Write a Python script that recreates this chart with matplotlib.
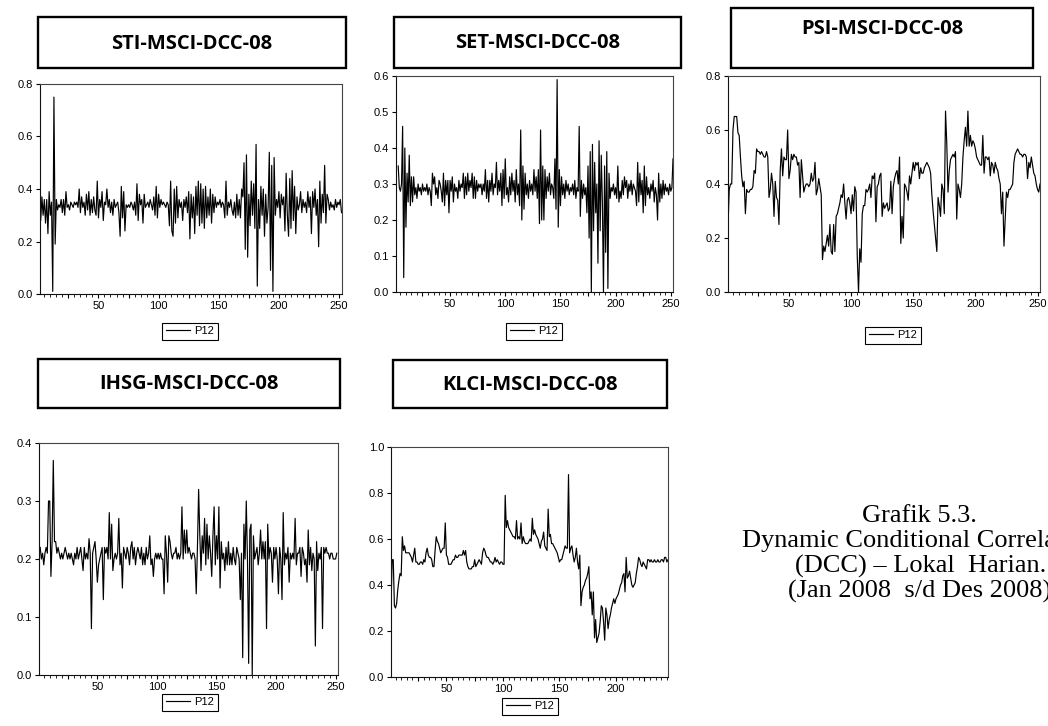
import numpy as np
import matplotlib.pyplot as plt
from matplotlib.patches import Rectangle
from matplotlib.ticker import MultipleLocator, FuncFormatter

W, H = 1048, 726

# dynamic conditional correlations, observation index starts given per series
sti_start = 1
sti = [0.40, 0.28, 0.37, 0.30, 0.36, 0.27, 0.36, 0.23, 0.39, 0.30,
       0.35, 0.01, 0.75, 0.19, 0.36, 0.32, 0.34, 0.33, 0.36, 0.31,
       0.36, 0.30, 0.39, 0.33, 0.34, 0.32, 0.35, 0.34, 0.33, 0.35,
       0.34, 0.35, 0.33, 0.40, 0.31, 0.37, 0.33, 0.35, 0.30, 0.38,
       0.32, 0.39, 0.30, 0.36, 0.31, 0.37, 0.32, 0.30, 0.43, 0.29,
       0.36, 0.33, 0.39, 0.28, 0.35, 0.34, 0.40, 0.33, 0.36, 0.31,
       0.35, 0.30, 0.36, 0.33, 0.34, 0.35, 0.31, 0.22, 0.41, 0.29,
       0.39, 0.24, 0.34, 0.33, 0.34, 0.33, 0.35, 0.34, 0.32, 0.35,
       0.30, 0.42, 0.28, 0.38, 0.34, 0.36, 0.27, 0.38, 0.33, 0.34,
       0.35, 0.33, 0.36, 0.34, 0.32, 0.37, 0.30, 0.41, 0.29, 0.38,
       0.33, 0.36, 0.34, 0.35, 0.34, 0.33, 0.35, 0.34, 0.26, 0.43,
       0.24, 0.22, 0.40, 0.27, 0.41, 0.29, 0.36, 0.33, 0.35, 0.28,
       0.36, 0.33, 0.37, 0.31, 0.39, 0.21, 0.38, 0.29, 0.37, 0.23,
       0.41, 0.30, 0.43, 0.26, 0.42, 0.27, 0.40, 0.25, 0.41, 0.29,
       0.37, 0.30, 0.40, 0.27, 0.38, 0.31, 0.37, 0.33, 0.35, 0.34,
       0.36, 0.33, 0.35, 0.34, 0.29, 0.43, 0.30, 0.35, 0.33, 0.36,
       0.32, 0.30, 0.35, 0.29, 0.38, 0.30, 0.36, 0.29, 0.40, 0.37,
       0.50, 0.17, 0.53, 0.14, 0.38, 0.26, 0.43, 0.30, 0.42, 0.25,
       0.57, 0.03, 0.36, 0.25, 0.41, 0.30, 0.40, 0.22, 0.38, 0.27,
       0.33, 0.54, 0.09, 0.49, 0.01, 0.52, 0.30, 0.36, 0.33, 0.39,
       0.29, 0.38, 0.34, 0.37, 0.24, 0.46, 0.30, 0.22, 0.44, 0.25,
       0.47, 0.28, 0.41, 0.23, 0.37, 0.32, 0.34, 0.39, 0.31, 0.36,
       0.33, 0.35, 0.31, 0.39, 0.33, 0.37, 0.23, 0.39, 0.33, 0.40,
       0.30, 0.36, 0.18, 0.43, 0.27, 0.38, 0.31, 0.49, 0.27, 0.38,
       0.36, 0.32, 0.35, 0.33, 0.34, 0.32, 0.36, 0.33, 0.35, 0.34,
       0.36, 0.31]

set_start = 3
set_vals = [0.35, 0.29, 0.28, 0.30, 0.46, 0.04, 0.40, 0.18, 0.33, 0.25,
            0.38, 0.24, 0.32, 0.25, 0.32, 0.27, 0.29, 0.26, 0.30, 0.28,
            0.29, 0.27, 0.30, 0.28, 0.29, 0.28, 0.30, 0.27, 0.29, 0.28,
            0.24, 0.33, 0.30, 0.32, 0.27, 0.29, 0.26, 0.31, 0.30, 0.28,
            0.25, 0.33, 0.24, 0.31, 0.27, 0.31, 0.22, 0.31, 0.28, 0.32,
            0.25, 0.30, 0.28, 0.29, 0.26, 0.31, 0.28, 0.30, 0.29, 0.33,
            0.26, 0.32, 0.27, 0.33, 0.28, 0.31, 0.29, 0.33, 0.26, 0.32,
            0.26, 0.31, 0.28, 0.30, 0.29, 0.30, 0.27, 0.30, 0.28, 0.34,
            0.26, 0.31, 0.25, 0.31, 0.28, 0.33, 0.27, 0.30, 0.29, 0.36,
            0.27, 0.31, 0.28, 0.33, 0.24, 0.34, 0.26, 0.37, 0.27, 0.29,
            0.25, 0.32, 0.27, 0.33, 0.28, 0.31, 0.25, 0.34, 0.27, 0.30,
            0.24, 0.45, 0.20, 0.35, 0.23, 0.33, 0.27, 0.30, 0.26, 0.31,
            0.28, 0.30, 0.27, 0.34, 0.28, 0.32, 0.26, 0.34, 0.19, 0.45,
            0.20, 0.35, 0.20, 0.34, 0.26, 0.32, 0.28, 0.33, 0.27, 0.30,
            0.29, 0.26, 0.37, 0.23, 0.59, 0.18, 0.34, 0.24, 0.32, 0.27,
            0.30, 0.26, 0.31, 0.28, 0.30, 0.27, 0.29, 0.28, 0.30, 0.27,
            0.31, 0.26, 0.29, 0.28, 0.46, 0.21, 0.31, 0.26, 0.30, 0.27,
            0.29, 0.22, 0.35, 0.15, 0.39, 0.00, 0.41, 0.17, 0.36, 0.22,
            0.30, 0.08, 0.42, 0.17, 0.38, 0.25, 0.00, 0.35, 0.11, 0.39,
            0.01, 0.33, 0.26, 0.29, 0.28, 0.30, 0.27, 0.29, 0.26, 0.35,
            0.25, 0.28, 0.26, 0.31, 0.27, 0.32, 0.29, 0.31, 0.26, 0.30,
            0.28, 0.31, 0.27, 0.30, 0.29, 0.28, 0.24, 0.36, 0.25, 0.33,
            0.27, 0.31, 0.22, 0.35, 0.24, 0.32, 0.27, 0.29, 0.26, 0.30,
            0.28, 0.31, 0.25, 0.29, 0.27, 0.20, 0.33, 0.25, 0.30, 0.26,
            0.31, 0.27, 0.30, 0.28, 0.29, 0.27, 0.30, 0.28, 0.29, 0.37]

psi_start = 1
psi = [0.24, 0.38, 0.40, 0.40, 0.60, 0.65, 0.65, 0.65, 0.59, 0.58,
       0.50, 0.43, 0.39, 0.41, 0.29, 0.38, 0.37, 0.37, 0.38, 0.38,
       0.39, 0.45, 0.44, 0.53, 0.52, 0.52, 0.51, 0.52, 0.51, 0.50,
       0.50, 0.52, 0.50, 0.35, 0.38, 0.44, 0.40, 0.28, 0.41, 0.35,
       0.34, 0.25, 0.45, 0.53, 0.43, 0.50, 0.49, 0.49, 0.60, 0.42,
       0.45, 0.51, 0.49, 0.51, 0.50, 0.50, 0.47, 0.48, 0.35, 0.49,
       0.43, 0.37, 0.39, 0.40, 0.40, 0.39, 0.40, 0.44, 0.41, 0.42,
       0.48, 0.36, 0.38, 0.42, 0.39, 0.36, 0.12, 0.17, 0.15, 0.18,
       0.21, 0.17, 0.25, 0.15, 0.14, 0.25, 0.15, 0.28, 0.29, 0.31,
       0.33, 0.36, 0.35, 0.40, 0.33, 0.27, 0.34, 0.35, 0.33, 0.29,
       0.36, 0.30, 0.39, 0.37, 0.13, 0.00, 0.16, 0.11, 0.29, 0.32,
       0.32, 0.38, 0.37, 0.38, 0.40, 0.35, 0.43, 0.42, 0.44, 0.26,
       0.39, 0.40, 0.43, 0.44, 0.28, 0.33, 0.31, 0.32, 0.33, 0.30,
       0.31, 0.41, 0.29, 0.39, 0.42, 0.44, 0.45, 0.40, 0.50, 0.18,
       0.28, 0.20, 0.40, 0.39, 0.37, 0.34, 0.43, 0.40, 0.44, 0.48,
       0.45, 0.48, 0.47, 0.48, 0.42, 0.46, 0.44, 0.44, 0.46, 0.47,
       0.48, 0.47, 0.46, 0.44, 0.36, 0.30, 0.25, 0.20, 0.15, 0.35,
       0.32, 0.28, 0.40, 0.38, 0.29, 0.67, 0.55, 0.37, 0.45, 0.49,
       0.50, 0.51, 0.50, 0.52, 0.27, 0.40, 0.38, 0.35, 0.40, 0.50,
       0.56, 0.61, 0.54, 0.67, 0.54, 0.58, 0.54, 0.56, 0.55, 0.53,
       0.50, 0.49, 0.48, 0.47, 0.47, 0.58, 0.44, 0.50, 0.50, 0.49,
       0.50, 0.43, 0.48, 0.47, 0.44, 0.48, 0.46, 0.45, 0.42, 0.40,
       0.29, 0.37, 0.17, 0.27, 0.37, 0.35, 0.38, 0.38, 0.39, 0.40,
       0.48, 0.51, 0.52, 0.53, 0.52, 0.51, 0.51, 0.50, 0.51, 0.51,
       0.50, 0.42, 0.48, 0.46, 0.50, 0.47, 0.44, 0.43, 0.40, 0.38,
       0.37, 0.40]

ihsg_start = 2
ihsg = [0.22, 0.20, 0.21, 0.19, 0.21, 0.22, 0.21, 0.30, 0.30, 0.17,
        0.23, 0.37, 0.23, 0.23, 0.21, 0.22, 0.21, 0.20, 0.21, 0.20,
        0.21, 0.22, 0.21, 0.20, 0.21, 0.20, 0.21, 0.20, 0.19, 0.21,
        0.20, 0.22, 0.20, 0.21, 0.22, 0.20, 0.18, 0.22, 0.20, 0.21,
        0.20, 0.235, 0.21, 0.08, 0.21, 0.22, 0.23, 0.20, 0.16, 0.19,
        0.20, 0.21, 0.22, 0.13, 0.22, 0.21, 0.22, 0.20, 0.28, 0.20,
        0.26, 0.18, 0.20, 0.21, 0.20, 0.21, 0.27, 0.19, 0.21, 0.15,
        0.22, 0.21, 0.20, 0.22, 0.21, 0.19, 0.22, 0.23, 0.20, 0.22,
        0.19, 0.21, 0.22, 0.21, 0.20, 0.22, 0.19, 0.21, 0.19, 0.22,
        0.20, 0.21, 0.24, 0.19, 0.20, 0.17, 0.20, 0.21, 0.20, 0.21,
        0.20, 0.21, 0.20, 0.20, 0.14, 0.24, 0.21, 0.16, 0.24, 0.23,
        0.21, 0.20, 0.21, 0.21, 0.22, 0.20, 0.21, 0.20, 0.21, 0.29,
        0.20, 0.25, 0.21, 0.25, 0.21, 0.22, 0.21, 0.20, 0.21, 0.21,
        0.20, 0.14, 0.22, 0.32, 0.24, 0.18, 0.24, 0.21, 0.27, 0.19,
        0.26, 0.20, 0.24, 0.21, 0.17, 0.24, 0.29, 0.19, 0.24, 0.20,
        0.29, 0.15, 0.23, 0.20, 0.21, 0.18, 0.22, 0.19, 0.23, 0.19,
        0.21, 0.19, 0.22, 0.20, 0.19, 0.22, 0.21, 0.20, 0.13, 0.21,
        0.03, 0.26, 0.20, 0.30, 0.20, 0.02, 0.25, 0.26, 0.00, 0.24,
        0.20, 0.21, 0.22, 0.19, 0.21, 0.25, 0.20, 0.23, 0.20, 0.23,
        0.08, 0.26, 0.20, 0.22, 0.21, 0.16, 0.22, 0.20, 0.22, 0.20,
        0.14, 0.22, 0.20, 0.13, 0.28, 0.19, 0.21, 0.20, 0.22, 0.16,
        0.21, 0.20, 0.21, 0.20, 0.27, 0.19, 0.21, 0.21, 0.22, 0.17,
        0.22, 0.21, 0.19, 0.20, 0.16, 0.25, 0.19, 0.22, 0.18, 0.21,
        0.20, 0.05, 0.23, 0.18, 0.21, 0.20, 0.22, 0.08, 0.22, 0.21,
        0.22, 0.21, 0.21, 0.20, 0.21, 0.21, 0.20, 0.20, 0.20, 0.21]

klci_start = 1
klci = [0.30, 0.51, 0.51, 0.31, 0.30, 0.32, 0.38, 0.42, 0.45, 0.44,
        0.61, 0.55, 0.57, 0.54, 0.54, 0.54, 0.54, 0.53, 0.52, 0.50,
        0.53, 0.56, 0.50, 0.50, 0.49, 0.49, 0.50, 0.50, 0.49, 0.51,
        0.50, 0.54, 0.56, 0.53, 0.52, 0.52, 0.51, 0.48, 0.48, 0.55,
        0.61, 0.59, 0.58, 0.56, 0.54, 0.55, 0.56, 0.56, 0.67, 0.53,
        0.52, 0.49, 0.49, 0.49, 0.50, 0.51, 0.51, 0.53, 0.52, 0.52,
        0.53, 0.53, 0.53, 0.53, 0.55, 0.53, 0.55, 0.50, 0.48, 0.47,
        0.47, 0.47, 0.48, 0.48, 0.51, 0.48, 0.49, 0.50, 0.51, 0.50,
        0.49, 0.54, 0.56, 0.55, 0.53, 0.52, 0.52, 0.51, 0.50, 0.50,
        0.49, 0.50, 0.52, 0.50, 0.51, 0.50, 0.49, 0.50, 0.50, 0.49,
        0.49, 0.79, 0.65, 0.68, 0.65, 0.64, 0.63, 0.62, 0.61, 0.61,
        0.60, 0.68, 0.60, 0.61, 0.60, 0.67, 0.58, 0.61, 0.59, 0.58,
        0.58, 0.58, 0.59, 0.60, 0.59, 0.69, 0.62, 0.64, 0.62, 0.61,
        0.60, 0.58, 0.56, 0.59, 0.60, 0.63, 0.57, 0.56, 0.55, 0.73,
        0.61, 0.62, 0.58, 0.58, 0.57, 0.56, 0.55, 0.54, 0.52, 0.50,
        0.51, 0.51, 0.53, 0.55, 0.57, 0.56, 0.56, 0.88, 0.54, 0.56,
        0.57, 0.53, 0.50, 0.52, 0.56, 0.50, 0.47, 0.53, 0.31, 0.37,
        0.39, 0.40, 0.42, 0.43, 0.45, 0.48, 0.34, 0.37, 0.27, 0.37,
        0.17, 0.25, 0.15, 0.17, 0.19, 0.24, 0.31, 0.30, 0.24, 0.16,
        0.30, 0.27, 0.21, 0.25, 0.27, 0.30, 0.32, 0.34, 0.32, 0.34,
        0.35, 0.36, 0.38, 0.40, 0.41, 0.44, 0.45, 0.37, 0.52, 0.43,
        0.44, 0.46, 0.43, 0.40, 0.39, 0.40, 0.41, 0.45, 0.48, 0.52,
        0.51, 0.49, 0.48, 0.50, 0.49, 0.48, 0.47, 0.51, 0.51, 0.50,
        0.51, 0.50, 0.50, 0.51, 0.50, 0.50, 0.51, 0.50, 0.50, 0.51,
        0.51, 0.50, 0.52, 0.52, 0.50, 0.51]

titles = ["STI-MSCI-DCC-08", "SET-MSCI-DCC-08", "PSI-MSCI-DCC-08",
          "IHSG-MSCI-DCC-08", "KLCI-MSCI-DCC-08"]
caption = ["Grafik 5.3.", "Dynamic Conditional Correlation",
           "(DCC) \u2013 Lokal  Harian.", "(Jan 2008  s/d Des 2008)"]


def fig_rect(x0, y0, x1, y1):
    return [x0 / W, 1 - y1 / H, (x1 - x0) / W, (y1 - y0) / H]


def panel(fig, axbox, start, vals, xmax, ytop, ystep, title, tbox, title_y, leg_cx, leg_top):
    ax = fig.add_axes(fig_rect(*axbox))
    x = np.arange(start, start + len(vals))
    ax.plot(x, vals, color="black", lw=0.85, label="P12")
    ax.set_xlim(1, xmax)
    ax.set_ylim(0, ytop)
    ax.set_yticks(np.arange(0, ytop + 1e-9, ystep))
    ax.yaxis.set_major_formatter(FuncFormatter(lambda v, p: f"{v:.1f}"))
    ax.xaxis.set_major_locator(MultipleLocator(25))
    ax.xaxis.set_minor_locator(MultipleLocator(5))
    ax.xaxis.set_major_formatter(
        FuncFormatter(lambda v, p: f"{int(round(v))}" if round(v) % 50 == 0 and v > 0 else ""))
    ax.tick_params(axis="both", which="major", direction="out", length=3,
                   width=0.8, labelsize=8, pad=2, colors="black")
    ax.tick_params(axis="x", which="minor", direction="out", length=2, width=0.6)
    for side, s in ax.spines.items():
        s.set_linewidth(0.8)
        s.set_color("#111111" if side in ("left", "bottom") else "#444444")

    # title box
    x0, y0, x1, y1 = tbox
    fig.add_artist(Rectangle((x0 / W, 1 - y1 / H), (x1 - x0) / W, (y1 - y0) / H,
                             transform=fig.transFigure, fill=False, ec="black", lw=1.7))
    fig.text((x0 + x1) / 2 / W, 1 - title_y / H, title, ha="center", va="center",
             fontsize=14.5, fontweight="bold", family="Open Sans")

    ax.legend(loc="upper center", bbox_to_anchor=(leg_cx / W, 1 - leg_top / H),
              bbox_transform=fig.transFigure, fontsize=8, frameon=True,
              fancybox=False, edgecolor="black", framealpha=1, borderpad=0.3,
              handlelength=2.2, handletextpad=0.4, borderaxespad=0)
    ax.get_legend().get_frame().set_linewidth(0.8)
    return ax


fig = plt.figure(figsize=(W / 100, H / 100), dpi=100)
plt.rcParams["font.family"] = ["Liberation Sans", "DejaVu Sans"]

panel(fig, (39.5, 84, 341.5, 294), sti_start, sti, 252, 0.8, 0.2, titles[0],
      (38, 17, 346, 68), 44, 190, 323)
panel(fig, (396, 76, 673, 292), set_start, set_vals, 252, 0.6, 0.1, titles[1],
      (394, 17, 681, 68), 43, 534, 323)
panel(fig, (728, 76, 1040, 292), psi_start, psi, 252, 0.8, 0.2, titles[2],
      (731, 8, 1033, 68), 29, 893, 327)
panel(fig, (39, 443, 338, 675), ihsg_start, ihsg, 252, 0.4, 0.1, titles[3],
      (38, 359, 340, 408), 384, 190, 694)
panel(fig, (391, 447, 668, 677), klci_start, klci, 246, 1.0, 0.2, titles[4],
      (393, 360, 667, 408), 385, 530, 698)

cap_x = [862, 742, 795, 788]
cap_y = [516, 541, 566, 591]
for t, cx, cy in zip(caption, cap_x, cap_y):
    fig.text(cx / W, 1 - cy / H, t, ha="left", va="center", fontsize=19,
             family="Liberation Serif")

fig.savefig("out.png", dpi=100)
